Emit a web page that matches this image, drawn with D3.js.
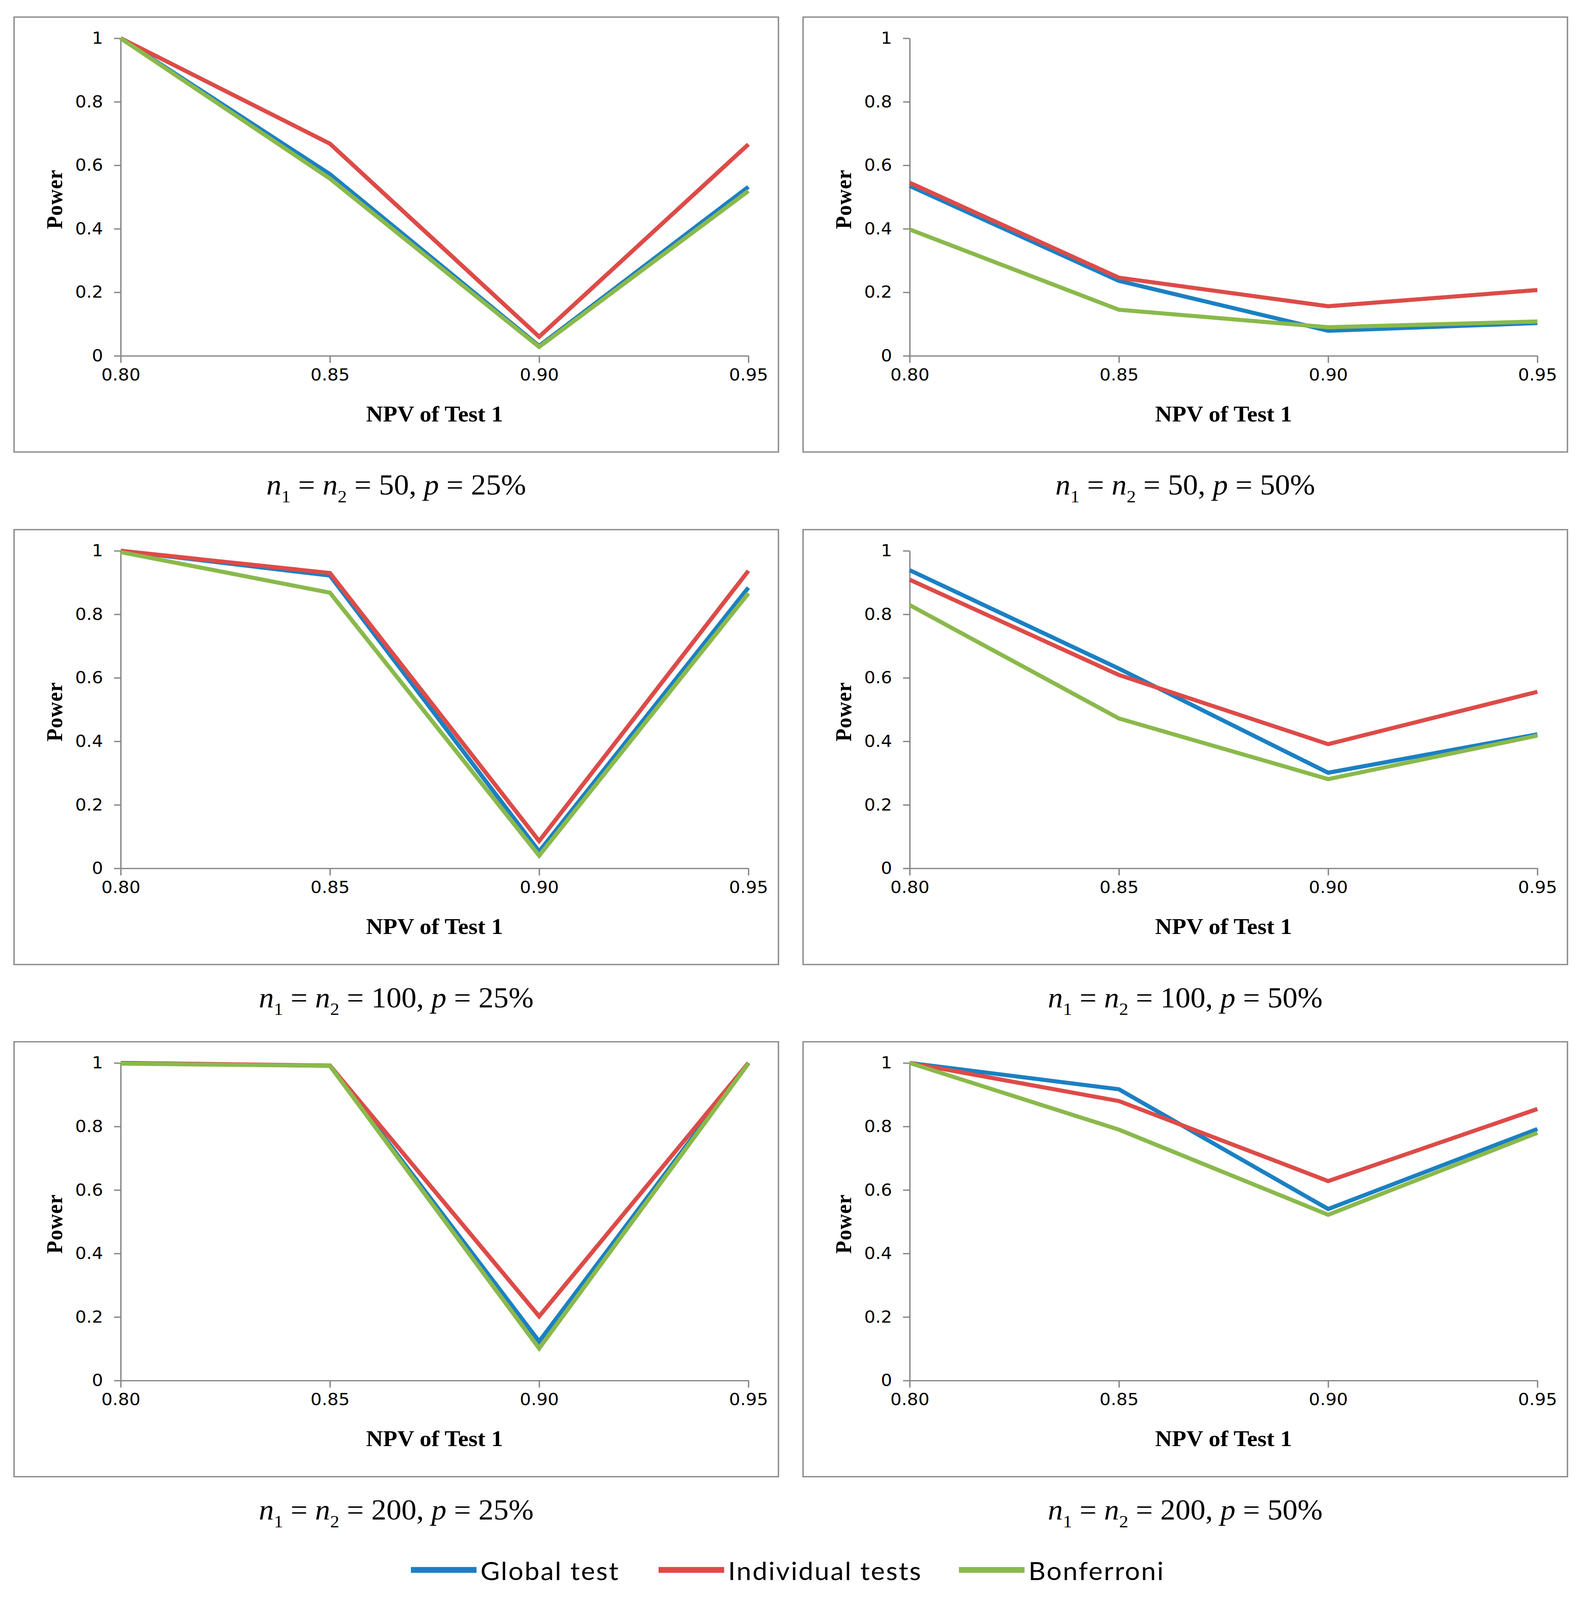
<!DOCTYPE html>
<html>
<head>
<meta charset="utf-8">
<script src="https://cdn.jsdelivr.net/npm/d3@7"></script>
<style>
  html, body { margin: 0; padding: 0; background: #fff; overflow: hidden; }
  #chart { display: block; width: 100vw; height: 100vh; }
  svg text { white-space: pre; }
</style>
</head>
<body>
<svg id="chart" viewBox="0 0 4040 4308" preserveAspectRatio="none"></svg>
<script>
// x values shared by every panel
const npv = [0.80, 0.85, 0.90, 0.95];
const yTicks = [0, 0.2, 0.4, 0.6, 0.8, 1];

// panel order: row by row, left then right
const sampleSizes = [50, 50, 100, 100, 200, 200];
const prevalences = ["25%", "50%", "25%", "50%", "25%", "50%"];

const seriesNames = ["Global test", "Individual tests", "Bonferroni"];
const seriesColors = ["#1b80c3", "#dd4b48", "#8ab94c"];

const globalTest = [
    [1.000, 0.572, 0.031, 0.532],
    [0.535, 0.236, 0.079, 0.103],
    [1.000, 0.922, 0.053, 0.884],
    [0.939, 0.629, 0.301, 0.422],
    [1.000, 0.991, 0.123, 1.000],
    [1.000, 0.917, 0.540, 0.792]
];
const individualTests = [
    [1.000, 0.668, 0.060, 0.666],
    [0.545, 0.246, 0.156, 0.207],
    [1.000, 0.930, 0.086, 0.937],
    [0.909, 0.609, 0.391, 0.556],
    [1.000, 0.992, 0.202, 1.000],
    [1.000, 0.880, 0.628, 0.855]
];
const bonferroni = [
    [1.000, 0.558, 0.028, 0.519],
    [0.398, 0.145, 0.090, 0.108],
    [0.996, 0.868, 0.040, 0.866],
    [0.829, 0.472, 0.281, 0.418],
    [0.998, 0.991, 0.101, 0.998],
    [1.000, 0.790, 0.522, 0.780]
];
const allSeries = [globalTest, individualTests, bonferroni];

const svg = d3.select("#chart");
const gray = "#878787";

// layout (in the 4040x4308 frame of the viewBox)
const boxW = 1957, boxH = 1171;
const colX = [36, 2056];
const rowY = [46, 1426, 2805];
const plot = { left: 273, top: 57, width: 1607, height: 855 };

const x = d3.scaleLinear().domain([0.80, 0.95]).range([0, plot.width]);
const y = d3.scaleLinear().domain([0, 1]).range([plot.height, 0]);

const line = d3.line()
    .x((d, i) => x(npv[i]))
    .y(d => y(d));

sampleSizes.forEach((n, p) => {
    const bx = colX[p % 2];
    const by = rowY[Math.floor(p / 2)];

    svg.append("rect")
        .attr("x", bx).attr("y", by)
        .attr("width", boxW).attr("height", boxH)
        .attr("fill", "#fff")
        .attr("stroke", "#8a8a8a")
        .attr("stroke-width", 3.5);

    const g = svg.append("g")
        .attr("transform", `translate(${bx + plot.left},${by + plot.top})`);

    // axes
    const yAxis = d3.axisLeft(y)
        .tickValues(yTicks)
        .tickFormat(d3.format("~g"))
        .tickSize(17)
        .tickSizeOuter(0)
        .tickPadding(28);

    const xAxis = d3.axisBottom(x)
        .tickValues(npv)
        .tickFormat(d3.format(".2f"))
        .tickSize(19)
        .tickSizeOuter(0)
        .tickPadding(15);

    const ya = g.append("g").call(yAxis);
    const xa = g.append("g").attr("transform", `translate(0,${plot.height})`).call(xAxis);

    [ya, xa].forEach(a => {
        a.selectAll("path, line").attr("stroke", gray).attr("stroke-width", 3.5);
        a.selectAll("text")
            .attr("fill", "#000")
            .style("font-family", "'DejaVu Sans', Verdana, sans-serif")
            .style("font-size", "45px");
    });

    // series lines
    allSeries.forEach((s, k) => {
        g.append("path")
            .datum(s[p])
            .attr("fill", "none")
            .attr("stroke", seriesColors[k])
            .attr("stroke-width", 11)
            .attr("d", line);
    });

    // axis titles
    g.append("text")
        .attr("transform", `translate(-150,${plot.height / 2 + 6}) rotate(-90)`)
        .attr("text-anchor", "middle")
        .style("font-family", "'Liberation Serif', 'Times New Roman', serif")
        .style("font-weight", "bold")
        .style("font-size", "57px")
        .style("letter-spacing", "1px")
        .text("Power");

    g.append("text")
        .attr("x", plot.width / 2)
        .attr("y", plot.height + 177)
        .attr("text-anchor", "middle")
        .style("font-family", "'Liberation Serif', 'Times New Roman', serif")
        .style("font-weight", "bold")
        .style("font-size", "60px")
        .text("NPV of Test 1");

    // caption under the box
    const cap = svg.append("text")
        .attr("x", bx + boxW / 2)
        .attr("y", by + boxH + 115)
        .attr("text-anchor", "middle")
        .style("font-family", "'Liberation Serif', 'Times New Roman', serif")
        .style("font-size", "77px");
    cap.append("tspan").style("font-style", "italic").text("n");
    cap.append("tspan").attr("dy", 21).style("font-size", "47px").text("1");
    cap.append("tspan").attr("dy", -21).text(" = ");
    cap.append("tspan").style("font-style", "italic").text("n");
    cap.append("tspan").attr("dy", 21).style("font-size", "47px").text("2");
    cap.append("tspan").attr("dy", -21).text(` = ${n}, `);
    cap.append("tspan").style("font-style", "italic").text("p");
    cap.append("tspan").text(` = ${prevalences[p]}`);
});

// legend
const legendX = [1052, 1686, 2455];
const legend = svg.append("g");
seriesNames.forEach((name, k) => {
    legend.append("line")
        .attr("x1", legendX[k]).attr("x2", legendX[k] + 168)
        .attr("y1", 4227).attr("y2", 4227)
        .attr("stroke", seriesColors[k])
        .attr("stroke-width", 16);
    legend.append("text")
        .attr("x", legendX[k] + 178)
        .attr("y", 4254)
        .style("font-family", "Lato, 'Open Sans', sans-serif")
        .style("font-size", "68px")
        .style("letter-spacing", "3px")
        .attr("fill", "#000")
        .text(name);
});
</script>
</body>
</html>
